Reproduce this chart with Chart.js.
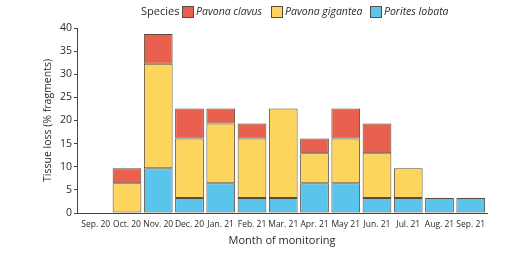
<!DOCTYPE html>
<html><head><meta charset="utf-8">
<script src="https://cdn.jsdelivr.net/npm/chart.js@4/dist/chart.umd.min.js"></script>
<style>html,body{margin:0;padding:0;background:#fff}#wrap{width:528px;height:253px}</style>
</head><body><div id="wrap"><canvas id="c" width="528" height="253"></canvas></div>
<script>
const categories = ["Sep. 20","Oct. 20","Nov. 20","Dec. 20","Jan. 21","Feb. 21","Mar. 21","Apr. 21","May 21","Jun. 21","Jul. 21","Aug. 21","Sep. 21"];
const poritesLobata  = [0, 0,    9.68, 3.23, 6.45, 3.23, 3.23,  6.45, 6.45, 3.23, 3.23, 3.23, 3.23];
const pavonaGigantea = [0, 6.45, 22.58,12.90,12.90,12.90,19.35, 6.45, 9.68, 9.68, 6.45, 0,    0];
const pavonaClavus   = [0, 3.23, 6.45, 6.45, 3.23, 3.23, 0,     3.23, 6.45, 6.45, 0,    0,    0];
const yTicks = [0,5,10,15,20,25,30,35,40];
const seriesNames = ["Porites lobata","Pavona gigantea","Pavona clavus"];
const seriesColors = ["#5BC4EC","#FDD45C","#E9604E"];

const FONT = "'Open Sans', 'DejaVu Sans', sans-serif";
const TXT = '#2a2a2a';
const toPts = arr => arr.map((v,i)=>({x:i, y: v===0 ? null : v}));

const legendPlugin = {
  id:'customLegend',
  afterDraw(chart){
    const ctx = chart.ctx;
    ctx.save();
    ctx.textBaseline = 'middle';
    ctx.fillStyle = TXT;
    ctx.font = "11px " + FONT;
    ctx.textAlign = 'left';
    const cy = 12;
    ctx.fillText('Species', 141, cy);
    const order = [2,1,0];
    const boxX = [182, 271, 370];
    order.forEach((di,k)=>{
      const ds = chart.data.datasets[di];
      ctx.fillStyle = ds.backgroundColor;
      ctx.strokeStyle = '#5a4c3c';
      ctx.lineWidth = 1;
      ctx.fillRect(boxX[k]+0.5, cy-5.5, 11, 11);
      ctx.strokeRect(boxX[k]+0.5, cy-5.5, 11, 11);
      ctx.fillStyle = TXT;
      ctx.font = "italic 10.5px " + FONT;
      ctx.fillText(ds.label, boxX[k]+14, cy);
    });
    ctx.restore();
  }
};

new Chart(document.getElementById('c'), {
  type:'bar',
  data:{
    datasets:[poritesLobata, pavonaGigantea, pavonaClavus].map((arr,i)=>({
      label: seriesNames[i],
      data: toPts(arr),
      backgroundColor: seriesColors[i],
      borderColor:'#5a4c3c',
      borderWidth:1,
      borderSkipped:false,
      barPercentage:0.92,
      categoryPercentage:1.0
    }))
  },
  options:{
    responsive:false,
    animation:false,
    devicePixelRatio:1,
    layout:{padding:{left:36,right:41,top:28,bottom:6}},
    plugins:{legend:{display:false},tooltip:{enabled:false}},
    scales:{
      x:{
        type:'linear',
        stacked:true,
        offset:false,
        min:-0.60, max:12.52,
        afterBuildTicks: s => { s.ticks = categories.map((c,i)=>({value:i})); },
        afterFit: s => { s.height = 253 - 213 - 6; },
        ticks:{callback:(v)=>categories[v] ?? '', font:{family:FONT,size:8.5},color:TXT, padding:6, maxRotation:0, autoSkip:false},
        grid:{display:false, drawTicks:false, offset:false},
        border:{display:true,color:'#444',width:1},
        title:{display:true,text:'Month of monitoring',font:{family:FONT,size:11},color:TXT,padding:{top:0,bottom:0}}
      },
      y:{
        stacked:true,
        min:0,max:40,
        afterBuildTicks: s => { s.ticks = yTicks.map(v=>({value:v})); },
        afterFit: s => { s.width = 77 - 36; },
        ticks:{font:{family:FONT,size:10.5},color:TXT,padding:2},
        grid:{drawOnChartArea:false,drawTicks:true,tickLength:3,color:'#444'},
        border:{display:true,color:'#444',width:1},
        title:{display:true,text:'Tissue loss (% fragments)',font:{family:FONT,size:10.5},color:TXT,padding:{top:6,bottom:0}}
      }
    }
  },
  plugins:[legendPlugin]
});
</script></body></html>
